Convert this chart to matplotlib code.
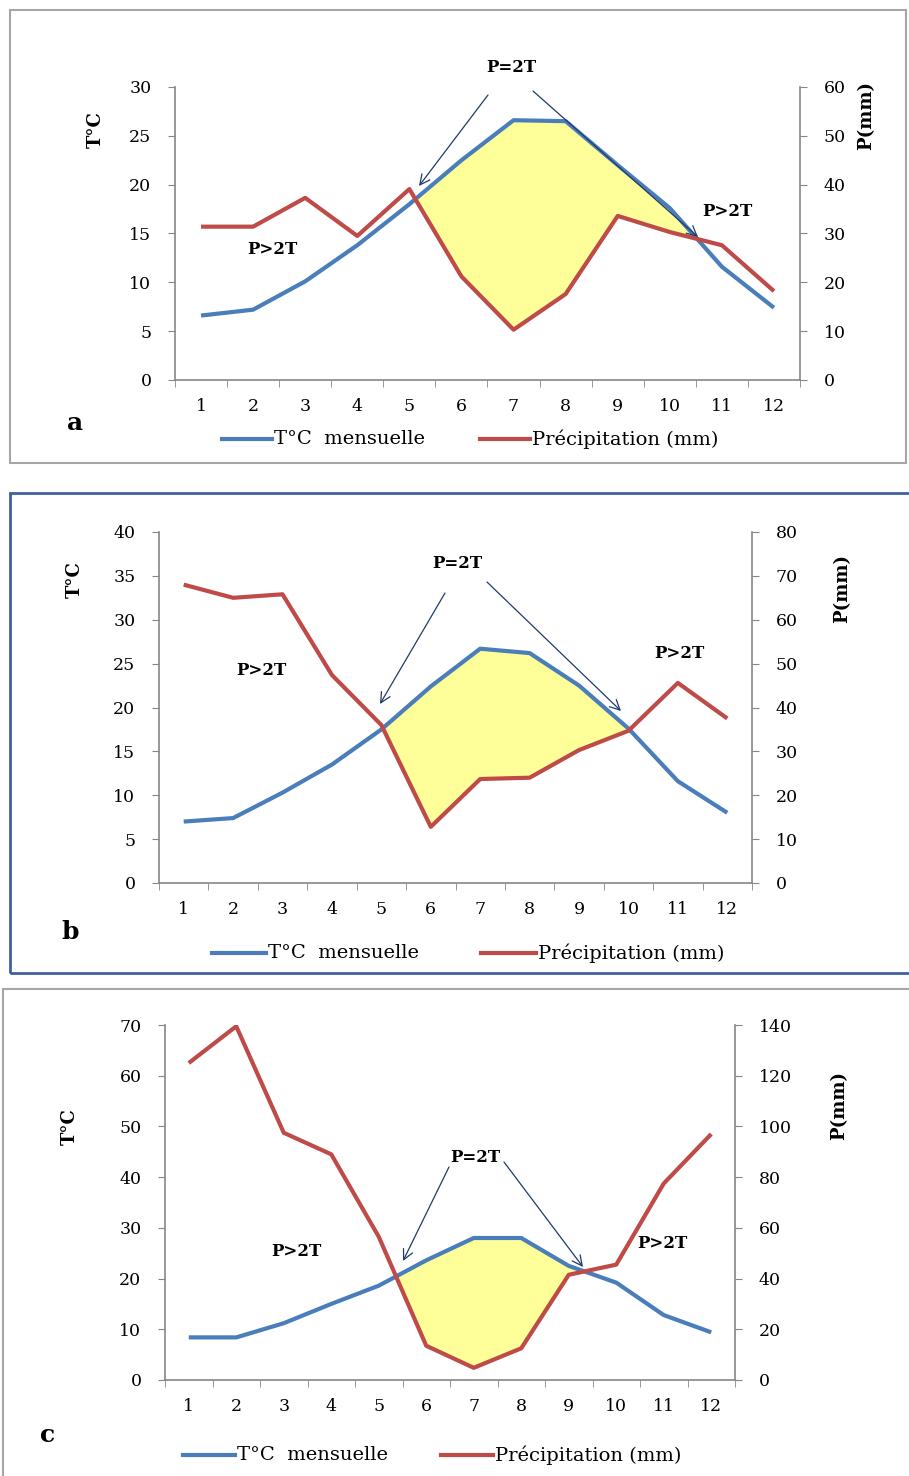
import matplotlib
matplotlib.use('Agg')
import matplotlib.pyplot as plt
import numpy as np
from matplotlib.lines import Line2D
from matplotlib.patches import Rectangle

plt.rcParams['font.family'] = 'DejaVu Serif'

W, H = 909, 1476

months = list(range(1, 13))

# panel a
temp_a = [6.6, 7.2, 10.1, 13.8, 18.0, 22.5, 26.6, 26.5, 22.0, 17.6, 11.6, 7.4]
precip_a = [31.4, 31.4, 37.3, 29.5, 39.1, 21.2, 10.3, 17.6, 33.6, 30.3, 27.6, 18.2]
# panel b
temp_b = [7.0, 7.4, 10.3, 13.5, 17.5, 22.4, 26.7, 26.2, 22.5, 17.6, 11.6, 8.0]
precip_b = [68.0, 65.0, 65.8, 47.4, 36.0, 12.8, 23.7, 24.0, 30.3, 34.7, 45.6, 37.5]
# panel c
temp_c = [8.4, 8.4, 11.2, 15.0, 18.6, 23.6, 28.0, 28.0, 22.5, 19.2, 12.8, 9.4]
precip_c = [125.0, 139.5, 97.5, 89.0, 56.5, 13.5, 4.8, 12.5, 41.5, 45.5, 77.5, 97.0]

BLUE = '#4A7EBB'
RED = '#BE4B48'
YELLOW = '#FFFF99'
GRAY = '#868686'
NAVY = '#1F3A6B'

fig = plt.figure(figsize=(W / 100, H / 100), dpi=100)
fig.patch.set_facecolor('white')


def fp(x, y):
    # pixel position (from top-left) -> figure fraction
    return (x / W, 1 - y / H)


def panel(box, T, P, tmax, tstep, letter, frame, texts, arrows, legend, ylab):
    l, t, r, b = box
    ax = fig.add_axes([l / W, 1 - b / H, (r - l) / W, (b - t) / H])
    ax2 = ax.twinx()
    T = np.array(T)
    P = np.array(P)

    ax.fill_between(months, T, P / 2, where=T >= P / 2, interpolate=True,
                    color=YELLOW, lw=0, zorder=1)
    ax.plot(months, T, color=BLUE, lw=3, solid_capstyle='butt', zorder=3)
    ax2.plot(months, P, color=RED, lw=3, solid_capstyle='butt')

    ax.set_xlim(0.5, 12.5)
    ax.set_ylim(0, tmax)
    ax2.set_ylim(0, 2 * tmax)
    ax.set_yticks(np.arange(0, tmax + 1, tstep))
    ax2.set_yticks(np.arange(0, 2 * tmax + 1, 2 * tstep))
    ax.set_xticks(months)
    ax.set_xticks(np.arange(0.5, 13, 1), minor=True)
    ax.tick_params(axis='x', which='major', length=0, pad=13, labelsize=12.5)
    ax.tick_params(axis='x', which='minor', length=5, color=GRAY, direction='out')
    ax.tick_params(axis='y', length=5, color=GRAY, pad=12, labelsize=12.5)
    ax2.tick_params(axis='y', length=5, color=GRAY, pad=12, labelsize=12.5)

    for s in ['top', 'right']:
        ax.spines[s].set_visible(False)
    for s in ['top', 'left', 'bottom']:
        ax2.spines[s].set_visible(False)
    for s in ['left', 'bottom']:
        ax.spines[s].set_color(GRAY)
        ax.spines[s].set_linewidth(1.2)
    ax2.spines['right'].set_color(GRAY)
    ax2.spines['right'].set_linewidth(1.2)

    # frame around the panel
    fx0, fy0, fx1, fy1, fcol, flw = frame
    x0, y1 = fp(fx0, fy0)
    x1, y0 = fp(fx1, fy1)
    fig.add_artist(Rectangle((x0, y0), x1 - x0, y1 - y0, transform=fig.transFigure,
                             fill=False, edgecolor=fcol, lw=flw))

    # axis titles
    (tx, ty), (px, py) = ylab
    fig.text(*fp(tx, ty), 'T°C', rotation=90, ha='center', va='center',
             fontsize=13, fontweight='bold')
    fig.text(*fp(px, py), 'P(mm)', rotation=90, ha='center', va='center',
             fontsize=13, fontweight='bold')

    # annotations
    for s, x, y in texts:
        fig.text(*fp(x, y), s, ha='center', va='center', fontsize=12,
                 fontweight='bold')
    for (xs, ys), (xe, ye) in arrows:
        ax.annotate('', xy=fp(xe, ye), xytext=fp(xs, ys),
                    xycoords='figure fraction', textcoords='figure fraction',
                    annotation_clip=False,
                    arrowprops=dict(arrowstyle='->', color=NAVY, lw=0.9,
                                    mutation_scale=18, shrinkA=0, shrinkB=0))

    # panel letter
    lx, ly = letter[1], letter[2]
    fig.text(*fp(lx, ly), letter[0], ha='center', va='center', fontsize=18,
             fontweight='bold')

    # legend
    (b0, b1, ly2), (r0, r1) = legend
    for (a0, a1), col, lab in [((b0, b1), BLUE, 'T°C  mensuelle'),
                               ((r0, r1), RED, 'Précipitation (mm)')]:
        xa, yy = fp(a0, ly2)
        xb, _ = fp(a1, ly2)
        fig.add_artist(Line2D([xa, xb], [yy, yy], transform=fig.transFigure,
                              color=col, lw=3))
        fig.text(*fp(a1 + 2, ly2), lab, ha='left', va='center', fontsize=14)
    return ax, ax2


panel((175, 87, 800, 380), temp_a, precip_a, 30, 5, ('a', 75, 423),
      (10, 10, 906, 463, '#A6A6A6', 1.5),
      [('P=2T', 511, 68), ('P>2T', 272, 250), ('P>2T', 727, 211)],
      [((488, 95), (419, 186)), ((533, 91), (698, 237))],
      ((222, 272, 439), (480, 530)),
      ((96, 130), (866, 115)))

panel((159, 532, 752, 883), temp_b, precip_b, 40, 5, ('b', 70, 932),
      (10, 493, 912, 973, '#3F5F9F', 2),
      [('P=2T', 457, 563), ('P>2T', 261, 670), ('P>2T', 679, 653)],
      [((445, 593), (380, 704)), ((487, 582), (621, 711))],
      ((212, 266, 953), (481, 536)),
      ((75, 580), (842, 588)))

panel((165, 1025, 735, 1380), temp_c, precip_c, 70, 10, ('c', 48, 1435),
      (3, 989, 912, 1480, '#A6A6A6', 1.5),
      [('P=2T', 475, 1157), ('P>2T', 296, 1252), ('P>2T', 662, 1244)],
      [((449, 1167), (403, 1261)), ((504, 1162), (583, 1267))],
      ((183, 235, 1455), (441, 493)),
      ((70, 1127), (839, 1105)))

fig.savefig('out.png', dpi=100)
